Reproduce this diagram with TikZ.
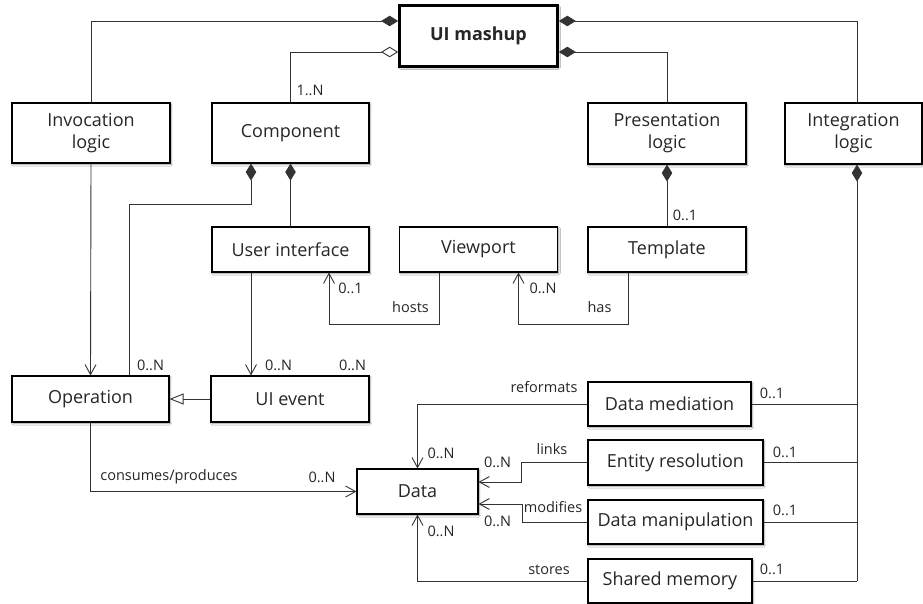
\documentclass[tikz,border=0pt]{standalone}
\usepackage{fontspec}
\setmainfont{Open Sans}
\usetikzlibrary{arrows.meta,shadows.blur}
\begin{document}
\begin{tikzpicture}[x=1pt,y=-1pt,
  box/.style={draw=black, line width=1.1pt, fill=white, inner sep=0pt, align=center,
    font=\fontsize{18}{22}\selectfont, text=black!85,
    blur shadow={shadow xshift=1.2pt, shadow yshift=-1.4pt, shadow blur radius=1.6pt, shadow opacity=45}},
  link/.style={draw=black!80, line width=0.9pt},
  lbl/.style={font=\fontsize{14.5}{16}\selectfont, text=black!85, inner sep=0pt, anchor=base},
  compo/.style={{Diamond[length=17pt,width=10.5pt]}-},
  aggr/.style={{Diamond[open,length=17pt,width=10.5pt,fill=white]}-},
  nav/.style={-{Straight Barb[length=10pt,width=11pt]}},
  gen/.style={-{Triangle[open,length=14pt,width=11pt,fill=white]}},
]
\useasboundingbox (0,0) rectangle (923,604);
\fill[white] (0,0) rectangle (923,604);

% classes
\node[box, line width=2.7pt, minimum width=158pt, minimum height=61pt, font=\fontsize{18}{22}\selectfont\bfseries] (mashup) at (478.5,36) {UI mashup};
\node[box, minimum width=158pt, minimum height=60pt] (inv)   at (91,133)    {Invocation\\logic};
\node[box, minimum width=157pt, minimum height=60pt] (comp)  at (290.5,133) {Component};
\node[box, minimum width=158pt, minimum height=61pt] (pres)  at (667,133.5) {Presentation\\logic};
\node[box, minimum width=137pt, minimum height=61pt] (integ) at (853.5,133.5) {Integration\\logic};
\node[box, minimum width=157pt, minimum height=45pt] (ui)    at (290.5,249.5) {User interface};
\node[box, minimum width=158pt, minimum height=45pt] (view)  at (478.5,249.5) {Viewport};
\node[box, minimum width=158pt, minimum height=45pt] (templ) at (667,249.5) {Template};
\node[box, minimum width=157pt, minimum height=46pt] (op)    at (90.5,399)  {Operation};
\node[box, minimum width=158pt, minimum height=46pt] (ev)    at (290,399)   {UI event};
\node[box, minimum width=121pt, minimum height=45pt] (data)  at (417.5,491.5) {Data};
\node[box, minimum width=163pt, minimum height=44pt] (dmed)  at (669.5,404) {Data mediation};
\node[box, minimum width=175pt, minimum height=45pt] (er)    at (675.5,462.5) {Entity resolution};
\node[box, minimum width=175pt, minimum height=44pt] (dman)  at (675.5,522) {Data manipulation};
\node[box, minimum width=164pt, minimum height=44pt] (sm)    at (670,581)   {Shared memory};

% bend points
\coordinate (k1) at (129,204);
\coordinate (hk) at (329,324);
\coordinate (hv) at (518.5,324);
\coordinate (lk) at (521,482);
\coordinate (mk) at (522,504);
\coordinate (ib) at (857,581);

% UI mashup parts
\draw[link,compo] ([yshift=15pt]mashup.west) -| (inv.north);
\draw[link,aggr]  ([yshift=-16pt]mashup.west) -| (comp.north);
\draw[link,compo] ([yshift=15pt]mashup.east) -| ([xshift=3.5pt]integ.north);
\draw[link,compo] ([yshift=-16pt]mashup.east) -| (pres.north);

% component parts
\draw[link,compo] ([xshift=-39.5pt]comp.south) |- (k1) -- ([xshift=38.5pt]op.north);
\draw[link,compo] (comp.south) -- (ui.north);
\draw[link,compo] (pres.south) -- (templ.north);

% navigations
\draw[link,nav] (inv.south) -- (op.north);
\draw[link,nav] ([xshift=-39.5pt]ui.south) -- ([xshift=-39pt]ev.north);
\draw[link,gen] (ev.west) -- (op.east);
\draw[link,nav] ([xshift=-39.5pt]view.south) |- (hk) -- ([xshift=38.5pt]ui.south);
\draw[link,nav] ([xshift=-39pt]templ.south) |- (hv) -- ([xshift=40pt]view.south);

% data relations
\draw[link,nav] (op.south) |- (data.west);
\draw[link,nav] (dmed.west) -| (data.north);
\draw[link,nav] (er.west) -| (lk) -- (lk -| data.east);
\draw[link,nav] (dman.west) -| (mk) -- (mk -| data.east);
\draw[link,nav] (sm.west) -| (data.south);

% integration logic parts
\draw[link,compo] ([xshift=3.5pt]integ.south) -- (ib);
\draw[link] (dmed.east) -- (dmed.east -| ib);
\draw[link] (er.east) -- (er.east -| ib);
\draw[link] (dman.east) -- (dman.east -| ib);
\draw[link] (sm.east) -- (ib);

% multiplicities and roles
\node[lbl] (m1)  at (310,96)    {1..N};
\node[lbl] (m2)  at (150.5,370) {0..N};
\node[lbl] (m3)  at (278.5,370) {0..N};
\node[lbl] (m4)  at (352.5,370) {0..N};
\node[lbl] (m5)  at (350.5,293) {0..1};
\node[lbl] (r1)  at (410.5,312) {hosts};
\node[lbl] (m6)  at (543,293)   {0..N};
\node[lbl] (r2)  at (599.5,312) {has};
\node[lbl] (m7)  at (685,220)   {0..1};
\node[lbl] (r3)  at (169,480)   {consumes/produces};
\node[lbl] (m8)  at (322,482)   {0..N};
\node[lbl] (r4)  at (544,392)   {reformats};
\node[lbl] (m9)  at (441,458)   {0..N};
\node[lbl] (r5)  at (552,454)   {links};
\node[lbl] (m10) at (497.5,467) {0..N};
\node[lbl] (r6)  at (553,512)   {modifies};
\node[lbl] (m11) at (497.5,526) {0..N};
\node[lbl] (r7)  at (549,574)   {stores};
\node[lbl] (m12) at (441,536)   {0..N};
\node[lbl] (m13) at (772,398)   {0..1};
\node[lbl] (m14) at (785,457)   {0..1};
\node[lbl] (m15) at (785,515)   {0..1};
\node[lbl] (m16) at (772,574)   {0..1};
\end{tikzpicture}
\end{document}
